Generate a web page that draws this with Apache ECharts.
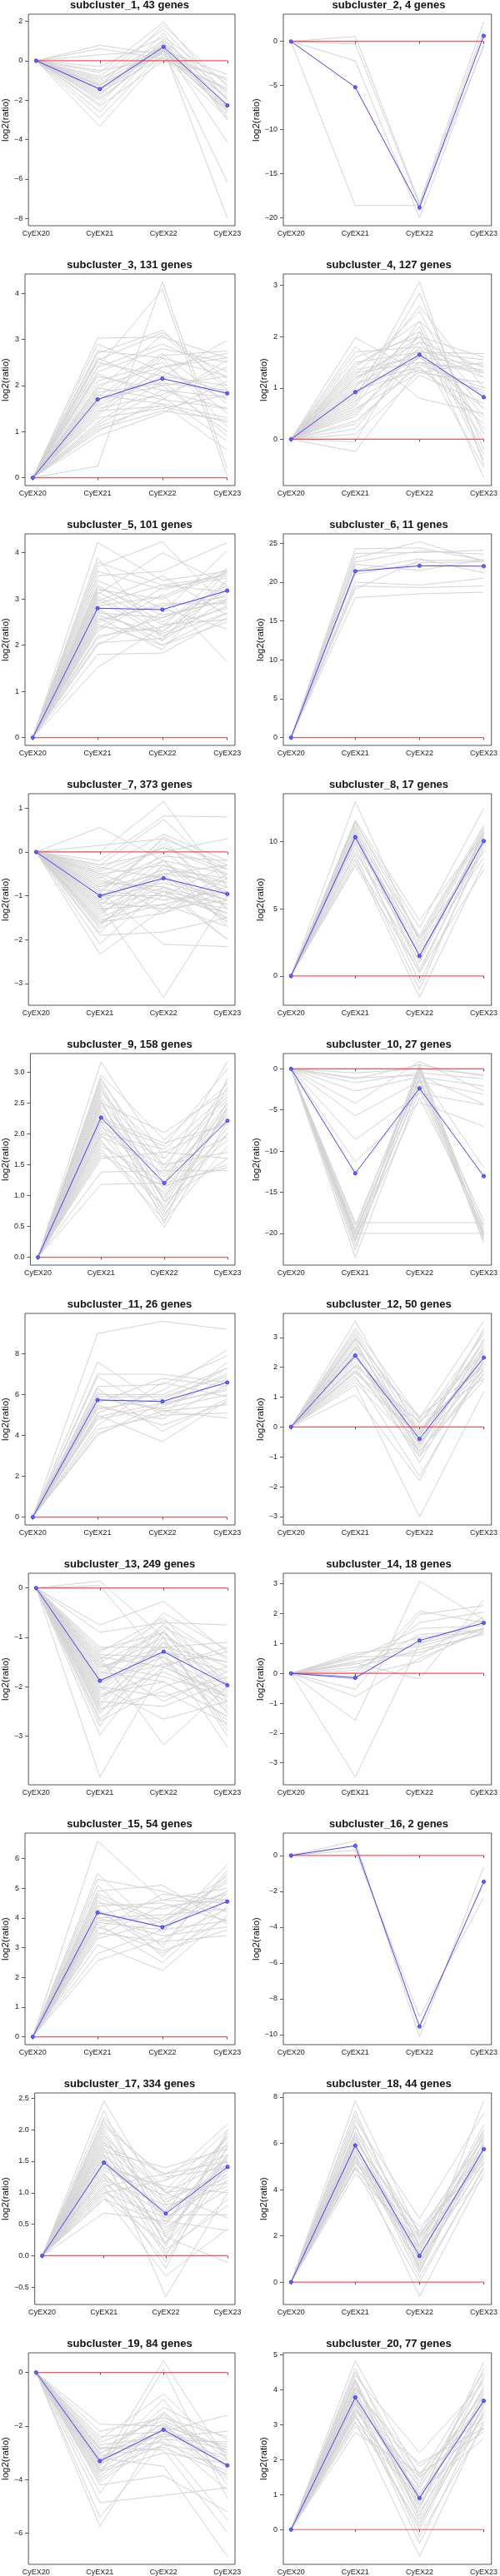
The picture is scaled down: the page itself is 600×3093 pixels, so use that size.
<!DOCTYPE html>
<html>
<head>
<meta charset="utf-8">
<script src="https://cdn.jsdelivr.net/npm/echarts@6/dist/echarts.min.js"></script>
<style>
  body { margin: 0; background: #fff; }
</style>
</head>
<body>
<div id="main" style="width: 600px; height: 3093px;"></div>
<script>
// samples on the x axis; every profile is log2 ratio vs CyEX20
const samples = ["CyEX20", "CyEX21", "CyEX22", "CyEX23"];
const geneCounts = [43, 4, 131, 127, 101, 11, 373, 17, 158, 27, 26, 50, 249, 18, 54, 2, 334, 44, 84, 77];

// blue mean profile of each subcluster
const meanProfiles = [
  [0, -1.44, 0.70, -2.27],
  [0, -5.19, -18.84, 0.63],
  [0, 1.70, 2.15, 1.83],
  [0, 0.92, 1.65, 0.82],
  [0, 2.80, 2.77, 3.18],
  [0, 21.4, 22.1, 22.05],
  [0, -1.0, -0.6, -0.96],
  [0, 10.33, 1.49, 10.04],
  [0, 2.26, 1.20, 2.21],
  [0, -12.7, -2.37, -13.05],
  [0, 5.74, 5.67, 6.60],
  [0, 2.39, -0.40, 2.32],
  [0, -1.88, -1.29, -1.97],
  [0, -0.15, 1.10, 1.69],
  [0, 4.18, 3.69, 4.55],
  [0, 0.54, -9.55, -1.47],
  [0, 1.48, 0.67, 1.41],
  [0, 5.91, 1.13, 5.75],
  [0, -3.31, -2.14, -3.47],
  [0, 3.78, 0.90, 3.68]
];

// y tick step and decimals per panel
const yTickStep = [2, 5, 1, 1, 1, 5, 1, 5, 0.5, 5, 2, 1, 1, 1, 1, 2, 0.5, 2, 2, 1];
const yTickDecimals = [0, 0, 0, 0, 0, 0, 0, 0, 1, 0, 0, 0, 0, 0, 0, 0, 1, 0, 0, 0];

// grey gene profiles (a subset of each subcluster)
const genes1 = [
  [0, 0.78, 0.3, -1.0], [0, 0.6, 0.1, -1.5], [0, 0.3, 0.5, -0.7], [0, -0.3, 1.2, -1.2],
  [0, -0.6, 1.96, -1.8], [0, -0.8, 1.6, -2.0], [0, -1.0, 1.0, -1.6], [0, -1.2, 0.4, -2.6],
  [0, -1.4, 0.8, -2.2], [0, -1.6, 0.2, -2.9], [0, -1.8, 1.4, -3.0], [0, -2.0, 0.6, -2.4],
  [0, -2.3, 0.0, -1.4], [0, -2.6, 0.9, -2.8], [0, -2.9, 0.5, -1.9], [0, -3.33, 0.3, -2.5],
  [0, -1.1, 0.6, -7.97], [0, -1.5, 0.5, -6.15], [0, -0.9, 0.7, -4.13], [0, -0.5, 0.1, -0.9],
  [0, -1.3, 1.8, -1.3], [0, -1.5, 0.9, -1.9], [0, -1.7, 0.7, -2.2], [0, -1.9, 0.5, -2.6],
  [0, -2.2, 1.1, -2.0], [0, -1.25, 0.55, -2.45]
];
const genes2 = [
  [0, 0.55, -18.3, 2.2], [0, -0.3, -18.5, 1.3], [0, -2.2, -20.0, -0.4], [0, -18.6, -18.6, -0.6]
];
const genes3 = [
  [0, 3.03, 3.05, 2.6], [0, 2.75, 2.6, 2.2], [0, 2.7, 3.2, 1.9], [0, 2.5, 2.2, 2.98],
  [0, 2.3, 2.8, 2.5], [0, 2.2, 1.9, 1.5], [0, 2.0, 2.4, 2.7], [0, 1.9, 3.1, 2.0],
  [0, 1.8, 1.6, 1.3], [0, 1.7, 2.0, 2.2], [0, 1.6, 2.3, 1.7], [0, 1.5, 1.8, 2.4],
  [0, 1.4, 2.6, 1.1], [0, 1.3, 1.5, 1.8], [0, 1.2, 2.1, 0.9], [0, 1.0, 1.7, 1.5],
  [0, 0.9, 1.4, 2.1], [0, 0.25, 4.25, 0.2], [0, 2.4, 4.09, 0.04], [0, 1.1, 1.6, 0.6],
  [0, 2.6, 2.0, 1.0], [0, 2.4, 2.9, 2.3], [0, 2.1, 2.5, 1.4], [0, 1.95, 1.7, 2.55],
  [0, 1.75, 2.7, 1.6], [0, 1.55, 2.2, 2.0], [0, 1.45, 1.55, 1.2], [0, 1.35, 2.4, 2.6],
  [0, 1.15, 1.9, 1.75], [0, 2.55, 3.15, 2.15], [0, 2.25, 1.75, 0.8], [0, 1.85, 2.05, 1.9],
  [0, 1.65, 2.65, 2.75], [0, 2.9, 2.3, 1.85], [0, 1.05, 1.45, 1.25]
];
const genes4 = [
  [0, 1.98, 1.3, 1.5], [0, 1.8, 0.8, 0.5], [0, 1.6, 2.0, 1.6], [0, 1.5, 1.7, 1.67],
  [0, 1.4, 2.3, 1.2], [0, 1.3, 1.5, 0.9], [0, 1.2, 1.9, 1.4], [0, 1.1, 1.4, 0.3],
  [0, 1.0, 2.6, 1.0], [0, 0.9, 1.6, 0.6], [0, 0.8, 3.07, -0.5], [0, 0.7, 2.85, -0.2],
  [0, 0.6, 1.3, 1.1], [0, 0.5, 1.8, 0.0], [0, 0.3, 1.5, 1.3], [0, 0.1, 1.25, 0.7],
  [0, -0.05, 2.1, -0.75], [0, -0.24, 1.4, 0.4], [0, 0.9, 2.2, -0.4], [0, 1.2, 1.7, 1.55],
  [0, 1.7, 1.8, 1.3], [0, 1.45, 2.1, 0.8], [0, 1.35, 1.6, 1.45], [0, 1.15, 2.0, 0.6],
  [0, 1.05, 1.75, 1.2], [0, 0.95, 1.35, 0.95], [0, 0.85, 2.0, 0.2], [0, 0.75, 1.5, 1.35],
  [0, 0.65, 2.3, -0.3], [0, 0.55, 1.6, 0.85], [0, 0.45, 1.9, 0.45], [0, 0.35, 1.45, 1.0],
  [0, 1.25, 2.5, 0.1], [0, 0.2, 1.7, -0.55]
];
const genes5 = [
  [0, 4.22, 3.4, 3.6], [0, 3.9, 2.1, 3.0], [0, 3.7, 4.24, 2.8], [0, 3.5, 3.6, 4.22],
  [0, 3.3, 2.5, 3.3], [0, 3.2, 3.0, 3.6], [0, 3.0, 2.2, 2.7], [0, 2.9, 3.3, 3.5],
  [0, 2.8, 2.0, 2.5], [0, 2.7, 2.6, 3.1], [0, 2.6, 1.9, 3.4], [0, 2.5, 2.9, 2.9],
  [0, 2.4, 2.3, 3.2], [0, 2.3, 3.1, 1.64], [0, 2.2, 2.4, 3.65], [0, 2.0, 2.7, 4.05],
  [0, 1.8, 1.83, 2.6], [0, 1.52, 2.4, 2.8], [0, 3.1, 4.0, 3.3], [0, 3.4, 2.8, 2.35],
  [0, 3.6, 3.2, 3.55], [0, 3.25, 2.65, 2.95], [0, 3.05, 2.3, 3.4], [0, 2.95, 3.5, 2.65],
  [0, 2.75, 2.1, 3.6], [0, 2.55, 2.85, 3.05], [0, 2.45, 2.0, 2.7], [0, 2.35, 3.25, 3.45],
  [0, 2.15, 2.6, 3.0], [0, 3.15, 2.45, 2.55], [0, 2.85, 3.05, 3.65], [0, 2.65, 2.25, 2.85],
  [0, 3.8, 3.3, 3.15], [0, 2.05, 2.15, 3.25]
];
const genes6 = [
  [0, 24.3, 24.4, 22.8], [0, 23.7, 23.8, 24.1], [0, 23.1, 25.2, 22.7], [0, 22.6, 24.0, 23.6],
  [0, 22.3, 21.5, 22.9], [0, 21.5, 23.0, 21.2], [0, 21.0, 22.5, 22.6], [0, 20.0, 19.6, 20.5],
  [0, 19.5, 19.3, 19.5], [0, 19.1, 22.8, 22.8], [0, 18.0, 18.5, 18.7]
];
const genes7 = [
  [0, 0.56, -0.2, -0.5], [0, 0.15, 0.3, -0.3], [0, 0.0, 1.15, -0.8], [0, -0.2, 0.82, 0.80],
  [0, -0.3, 0.74, -0.6], [0, -0.4, 0.4, -0.2], [0, -0.5, -0.3, -0.9], [0, -0.6, 0.1, -0.4],
  [0, -0.7, -0.8, -1.2], [0, -0.8, -0.5, -0.7], [0, -0.9, 0.2, -1.0], [0, -1.0, -1.0, -1.4],
  [0, -1.0, -0.4, -0.6], [0, -1.1, -0.7, -1.1], [0, -1.2, -0.2, -1.3], [0, -1.3, -1.2, -0.8],
  [0, -1.4, -0.6, -1.6], [0, -1.5, -0.9, -1.2], [0, -1.6, -1.4, -0.9], [0, -1.7, -0.3, -1.7],
  [0, -1.9, -1.83, -1.5], [0, -2.1, -0.8, -2.0], [0, -2.33, -1.3, -1.1], [0, -1.2, -3.32, -1.0],
  [0, -0.9, -2.11, -2.16], [0, -0.5, -1.0, -0.3], [0, -0.3, 0.0, 0.3],
  [0, -0.35, -0.6, -1.1], [0, -0.45, 0.1, -0.5], [0, -0.65, -0.9, -1.5], [0, -0.75, -0.1, -0.2],
  [0, -0.85, -1.1, -0.9], [0, -0.95, 0.3, -1.3], [0, -1.05, -0.5, -1.6], [0, -1.15, -1.3, -0.5],
  [0, -1.25, 0.0, -1.0], [0, -1.35, -0.8, -1.4], [0, -1.45, -0.3, -0.7], [0, -1.55, -1.2, -1.7],
  [0, -1.65, -0.6, -1.1], [0, -1.75, -1.0, -1.3], [0, -1.85, -0.4, -0.8], [0, -0.55, -1.4, -0.6],
  [0, -1.1, 0.35, -0.4], [0, -0.8, -0.2, -1.55], [0, -1.3, -0.5, -0.3], [0, -1.6, -0.9, -2.0]
];
const genes8 = [
  [0, 12.98, 2.5, 11.0], [0, 11.6, 4.15, 10.5], [0, 11.4, 3.6, 12.46], [0, 11.2, 2.2, 10.8],
  [0, 11.0, 1.5, 10.2], [0, 10.8, 0.5, 9.8], [0, 10.6, 3.0, 11.2], [0, 10.4, 2.0, 10.0],
  [0, 10.2, 1.0, 10.6], [0, 10.0, -0.5, 9.5], [0, 9.8, 2.8, 11.0], [0, 9.5, 0.2, 10.3],
  [0, 9.2, 1.8, 8.8], [0, 9.0, -1.0, 9.9], [0, 8.7, -1.6, 8.4], [0, 8.4, 1.2, 10.7],
  [0, 8.2, 0.3, 7.9], [0, 11.5, 2.8, 9.2], [0, 10.5, 1.5, 10.4]
];
const genes9 = [
  [0, 3.16, 1.6, 2.6], [0, 2.95, 1.9, 2.8], [0, 2.8, 0.9, 2.5], [0, 2.7, 1.4, 3.17],
  [0, 2.6, 1.1, 2.3], [0, 2.5, 2.02, 2.7], [0, 2.4, 0.7, 2.0], [0, 2.3, 1.3, 2.4],
  [0, 2.2, 1.0, 1.9], [0, 2.1, 1.6, 2.6], [0, 2.0, 0.8, 2.1], [0, 1.95, 1.5, 1.7],
  [0, 1.9, 0.49, 2.2], [0, 1.8, 1.2, 2.5], [0, 1.75, 0.6, 1.8], [0, 1.6, 1.7, 1.6],
  [0, 1.38, 1.4, 1.4], [0, 1.18, 1.2, 1.45], [0, 2.2, 1.8, 3.05], [0, 2.5, 0.9, 1.6],
  [0, 2.9, 1.2, 2.85], [0, 2.75, 0.75, 2.4], [0, 2.65, 1.7, 2.2], [0, 2.55, 0.55, 2.9],
  [0, 2.45, 1.5, 2.55], [0, 2.35, 0.95, 2.75], [0, 2.25, 1.85, 2.15], [0, 2.15, 0.65, 2.45],
  [0, 2.05, 1.35, 2.3], [0, 1.85, 1.05, 2.0], [0, 1.7, 0.85, 2.35], [0, 2.85, 1.45, 1.95],
  [0, 2.0, 1.75, 2.65], [0, 1.65, 1.15, 1.5]
];
const genes10 = [
  [0, -0.5, 0.0, -0.7], [0, -1.2, 0.5, -0.9], [0, -1.7, -0.5, -1.2], [0, -2.7, -1.0, -2.1],
  [0, -4.2, 0.9, -2.7], [0, -5.7, -1.5, -3.1], [0, -8.6, -3.0, -4.4], [0, -11.3, -4.1, -7.0],
  [0, -19.0, -0.5, -12.0], [0, -19.5, 0.3, -19.5], [0, -20.0, -1.0, -20.0], [0, -20.3, 0.0, -20.3],
  [0, -20.6, -2.0, -19.8], [0, -21.0, 0.6, -20.5], [0, -21.5, -1.5, -18.5], [0, -22.0, -0.2, -21.2],
  [0, -22.9, -2.5, -20.2], [0, -20.8, -3.5, -19.0], [0, -19.8, -1.2, -20.8], [0, -18.7, -18.7, -18.7],
  [0, -20.0, -20.0, -20.0], [0, -1.1, -0.8, -4.3]
];
const genes11 = [
  [0, 9.0, 9.6, 9.2], [0, 7.6, 5.5, 6.3], [0, 7.0, 7.0, 6.6], [0, 6.9, 5.0, 5.1],
  [0, 6.4, 6.5, 7.9], [0, 6.3, 4.2, 5.8], [0, 6.0, 6.0, 7.3], [0, 5.8, 5.3, 6.0],
  [0, 5.6, 6.8, 6.4], [0, 5.5, 4.5, 5.6], [0, 5.3, 5.8, 7.0], [0, 5.1, 6.2, 8.2],
  [0, 5.0, 3.7, 5.7], [0, 4.8, 5.4, 6.8], [0, 4.5, 6.6, 5.9], [0, 4.3, 5.0, 7.6],
  [0, 4.1, 5.2, 4.85], [0, 4.0, 5.6, 6.2], [0, 5.9, 5.9, 6.9], [0, 5.4, 4.8, 6.5],
  [0, 4.9, 5.6, 7.3], [0, 6.1, 5.2, 5.5]
];
const genes12 = [
  [0, 3.54, -0.2, 2.8], [0, 3.3, 0.3, 3.54], [0, 3.1, -0.6, 2.5], [0, 3.0, 0.1, 3.1],
  [0, 2.9, -0.9, 2.2], [0, 2.7, -0.3, 2.9], [0, 2.6, 0.36, 2.0], [0, 2.5, -1.2, 2.6],
  [0, 2.4, -0.5, 2.3], [0, 2.3, 0.0, 1.9], [0, 2.2, -0.7, 2.7], [0, 2.1, -0.1, 2.1],
  [0, 2.0, -1.0, 1.8], [0, 1.9, -0.4, 2.4], [0, 1.8, 0.2, 1.6], [0, 1.7, -1.65, 2.0],
  [0, 1.5, -0.8, 1.55], [0, 1.4, -3.02, 1.18], [0, 1.07, -1.8, 2.2], [0, 2.8, -0.6, 3.3],
  [0, 3.2, -0.3, 3.2], [0, 2.95, 0.25, 2.6], [0, 2.65, -1.0, 2.95], [0, 2.35, -0.15, 2.15],
  [0, 2.05, 0.15, 2.5], [0, 1.85, -0.55, 1.9], [0, 1.6, -0.25, 2.3], [0, 2.45, -0.8, 1.75]
];
const genes13 = [
  [0, 0.14, -1.0, -1.6], [0, 0.05, -1.5, -2.2], [0, -0.75, -0.27, -1.3], [0, -0.9, -0.7, -0.75],
  [0, -1.2, -1.2, -1.5], [0, -1.3, -0.6, -2.0], [0, -1.4, -1.6, -1.2], [0, -1.5, -0.9, -2.4],
  [0, -1.6, -1.3, -1.7], [0, -1.7, -1.9, -2.6], [0, -1.8, -0.8, -1.4], [0, -1.9, -1.4, -2.1],
  [0, -2.0, -2.2, -1.8], [0, -2.1, -1.1, -2.8], [0, -2.2, -1.7, -2.3], [0, -2.3, -2.4, -1.9],
  [0, -2.4, -1.0, -3.0], [0, -2.5, -1.5, -2.5], [0, -2.7, -2.0, -1.6], [0, -2.98, -1.3, -3.23],
  [0, -3.83, -1.6, -2.2], [0, -1.4, -3.18, -2.0], [0, -2.0, -2.66, -2.3], [0, -1.6, -1.2, -1.1],
  [0, -1.25, -0.9, -1.9], [0, -1.35, -1.4, -2.7], [0, -1.45, -0.65, -1.45], [0, -1.55, -1.8, -2.2],
  [0, -1.65, -1.0, -2.9], [0, -1.75, -0.75, -1.85], [0, -1.85, -1.55, -1.3], [0, -1.95, -1.2, -2.45],
  [0, -2.05, -0.9, -2.05], [0, -2.15, -1.9, -2.6], [0, -2.25, -1.3, -1.5], [0, -2.35, -0.7, -2.3],
  [0, -2.45, -2.1, -2.75], [0, -2.55, -1.1, -1.95], [0, -2.65, -1.6, -2.15], [0, -2.8, -0.85, -2.55],
  [0, -1.5, -2.3, -1.7], [0, -1.9, -0.5, -1.25]
];
const genes14 = [
  [0, 0.68, 0.9, 1.5], [0, 0.6, 1.2, 1.4], [0, 0.5, 1.5, 1.6], [0, 0.4, 0.7, 1.35],
  [0, 0.3, 1.0, 1.8], [0, 0.2, 0.8, 1.3], [0, 0.1, 1.3, 1.45], [0, 0.0, 1.7, 2.05],
  [0, -0.1, 0.4, 1.55], [0, -0.2, 2.08, 1.7], [0, -0.53, 1.97, 2.27], [0, -0.78, 0.5, 1.4],
  [0, -1.58, 3.09, 1.8], [0, -3.47, 1.0, 1.5], [0, 0.35, -0.19, 2.46], [0, 0.55, 0.6, 1.9]
];
const genes15 = [
  [0, 6.59, 4.6, 4.5], [0, 5.49, 3.5, 5.8], [0, 5.3, 4.9, 4.2], [0, 5.1, 3.0, 5.6],
  [0, 4.9, 5.1, 3.8], [0, 4.7, 3.8, 5.3], [0, 4.5, 4.3, 4.8], [0, 4.3, 2.8, 4.0],
  [0, 4.1, 4.6, 5.0], [0, 4.0, 3.4, 3.7], [0, 3.9, 4.0, 5.4], [0, 3.8, 2.5, 4.4],
  [0, 3.6, 4.8, 4.6], [0, 3.5, 3.2, 3.41], [0, 3.3, 3.9, 5.2], [0, 3.1, 2.23, 4.1],
  [0, 2.8, 3.6, 3.9], [0, 2.56, 3.3, 4.3], [0, 4.2, 3.7, 4.9], [0, 4.8, 3.9, 4.9],
  [0, 4.6, 2.7, 4.7], [0, 4.4, 4.5, 3.9], [0, 4.2, 3.1, 5.5], [0, 4.0, 4.1, 4.3],
  [0, 3.85, 3.6, 4.8], [0, 3.7, 2.9, 3.6], [0, 3.4, 4.4, 4.6]
];
const genes16 = [
  [0, 0.81, -10.12, -0.62], [0, 0.29, -9.0, -2.34]
];
const genes17 = [
  [0, 2.46, 0.8, 1.9], [0, 2.3, 0.3, 1.6], [0, 2.1, 1.2, 2.09], [0, 2.0, 0.5, 1.8],
  [0, 1.9, 1.0, 1.5], [0, 1.8, 0.2, 2.0], [0, 1.7, 0.9, 1.3], [0, 1.65, 1.4, 1.7],
  [0, 1.6, 0.6, 1.2], [0, 1.5, 0.0, 1.6], [0, 1.45, 0.7, 1.9], [0, 1.4, 1.1, 1.0],
  [0, 1.3, 0.4, 1.4], [0, 1.25, -0.2, 1.75], [0, 1.2, 0.8, 1.1], [0, 1.1, 1.3, 1.5],
  [0, 1.05, 0.1, 0.8], [0, 1.0, 0.6, 1.3], [0, 0.95, -0.32, 0.43], [0, 0.9, 0.5, 1.6],
  [0, 0.68, 0.55, 0.4], [0, 1.6, -0.65, 1.0], [0, 1.3, 0.3, -0.11], [0, 1.8, 1.0, 0.6],
  [0, 1.5, 0.7, 1.45], [0, 2.15, 0.55, 1.7], [0, 2.05, 1.25, 1.4], [0, 1.95, 0.15, 1.95],
  [0, 1.85, 0.75, 1.25], [0, 1.75, 1.3, 1.75], [0, 1.55, 0.35, 1.55], [0, 1.35, 0.95, 1.85],
  [0, 1.15, 0.45, 1.05], [0, 1.0, 1.2, 1.6], [0, 0.9, 0.2, 1.2], [0, 1.7, 0.05, 0.9],
  [0, 1.45, 1.05, 2.0], [0, 1.25, 0.65, 0.65], [0, 1.6, 0.85, 1.35], [0, 2.2, 1.0, 1.15],
  [0, 1.1, -0.1, 1.5]
];
const genes18 = [
  [0, 7.84, 2.0, 6.5], [0, 7.4, 1.2, 5.5], [0, 7.0, 2.75, 7.3], [0, 6.8, 0.5, 5.8],
  [0, 6.5, 1.6, 6.8], [0, 6.3, 0.9, 5.2], [0, 6.1, 2.2, 6.2], [0, 5.9, 1.4, 5.6],
  [0, 5.8, 0.2, 4.9], [0, 5.6, 1.8, 6.0], [0, 5.5, 1.0, 5.4], [0, 5.4, -0.63, 4.7],
  [0, 5.3, 0.7, 7.84], [0, 5.2, 2.4, 5.1], [0, 5.0, 1.3, 6.4], [0, 4.9, 0.0, 5.0],
  [0, 4.68, 1.7, 4.5], [0, 6.0, 0.4, 5.9], [0, 7.2, 1.5, 6.6], [0, 6.7, 2.1, 5.3],
  [0, 6.4, 0.6, 6.1], [0, 6.2, 1.9, 5.7], [0, 5.7, 1.1, 6.3], [0, 5.45, 0.8, 5.2],
  [0, 5.15, 2.0, 5.8], [0, 4.95, 1.5, 5.5]
];
const genes19 = [
  [0, -1.93, -2.0, -2.8], [0, -2.2, -1.7, -2.4], [0, -2.5, -0.8, -3.1], [0, -2.7, -2.4, -2.2],
  [0, -2.9, -1.6, -3.5], [0, -3.0, -2.2, -1.6], [0, -3.1, -2.8, -3.8], [0, -3.2, -1.9, -3.0],
  [0, -3.3, -1.0, -4.2], [0, -3.4, -2.5, -2.6], [0, -3.5, 0.44, -3.3], [0, -3.6, -2.1, -4.0],
  [0, -3.7, -3.0, -3.4], [0, -3.8, 0.13, -4.7], [0, -4.0, -2.3, -2.9], [0, -4.2, -3.85, -5.2],
  [0, -4.5, -1.5, -3.6], [0, -4.86, -4.59, -4.3], [0, -5.4, -2.6, -5.5], [0, -5.74, -2.0, -3.9],
  [0, -3.2, -3.5, -6.87], [0, -2.8, -2.9, -5.97], [0, -2.4, -2.2, -3.3], [0, -2.6, -1.8, -2.9],
  [0, -2.85, -2.6, -3.7], [0, -3.05, -1.5, -3.2], [0, -3.25, -2.3, -2.7], [0, -3.45, -1.9, -3.9],
  [0, -3.65, -2.7, -3.1], [0, -3.9, -2.0, -3.5], [0, -4.1, -2.4, -4.4], [0, -3.35, -1.3, -2.5]
];
const genes20 = [
  [0, 4.83, 1.5, 4.5], [0, 4.6, 0.8, 4.79], [0, 4.4, 2.2, 4.2], [0, 4.2, 0.3, 3.5],
  [0, 4.1, 1.2, 4.0], [0, 4.0, 1.8, 3.2], [0, 3.9, 0.6, 4.4], [0, 3.8, 1.0, 3.7],
  [0, 3.7, -0.2, 3.0], [0, 3.6, 1.4, 3.9], [0, 3.5, 0.5, 3.3], [0, 3.4, 1.9, 2.9],
  [0, 3.3, 0.0, 3.6], [0, 3.2, 1.1, 2.6], [0, 3.1, -0.77, 3.1], [0, 2.95, 0.9, 3.8],
  [0, 2.78, 1.6, 2.8], [0, 4.3, 0.7, 4.1], [0, 3.6, -0.4, 3.4], [0, 4.5, 1.3, 4.3],
  [0, 4.25, 0.4, 3.9], [0, 4.05, 1.6, 3.6], [0, 3.95, 0.9, 4.6], [0, 3.75, 0.2, 3.3],
  [0, 3.65, 1.2, 4.0], [0, 3.45, 0.7, 3.5], [0, 3.35, 1.5, 3.1], [0, 3.25, 0.1, 3.75],
  [0, 3.05, 1.0, 2.9]
];

const geneSets = [genes1, genes2, genes3, genes4, genes5, genes6, genes7, genes8, genes9, genes10,
  genes11, genes12, genes13, genes14, genes15, genes16, genes17, genes18, genes19, genes20];

const chart = echarts.init(document.getElementById("main"));

const FONT = "Liberation Sans, Arial, sans-serif";
const colLeft = [29, 340];
const plotW = 253;
const plotH = 254;
const rowTop = 17;
const rowPitch = 312;

const xPos = [1, 2, 3, 4];
const fmtNum = (v, d) => (v < 0 ? "\u2212" : "") + Math.abs(v).toFixed(d);

let grids = [], xAxes = [], yAxes = [], titles = [], series = [];

geneSets.forEach(function (genes, i) {
  const col = i % 2;
  const row = Math.floor(i / 2);
  const top = rowTop + row * rowPitch;
  const left = colLeft[col];

  // y range like R: data range plus 4% either side
  let lo = 0, hi = 0;
  genes.concat([meanProfiles[i]]).forEach(function (g) {
    g.forEach(function (v) { lo = Math.min(lo, v); hi = Math.max(hi, v); });
  });
  const pad = (hi - lo) * 0.04;
  const step = yTickStep[i];
  let ticks = [];
  for (let v = Math.ceil((lo - pad) / step) * step; v <= hi + pad + 1e-9; v += step) {
    ticks.push(Math.round(v * 100) / 100);
  }

  grids.push({
    left: left, top: top, width: plotW, height: plotH,
    show: true, borderColor: "#555", borderWidth: 1, backgroundColor: "transparent"
  });
  titles.push({
    text: "subcluster_" + (i + 1) + ", " + geneCounts[i] + " genes",
    left: left + plotW / 2, top: top - 17, textAlign: "center", padding: 0,
    textStyle: { fontFamily: FONT, fontSize: 13, fontWeight: "bold", color: "#111" }
  });
  xAxes.push({
    gridIndex: i, type: "value", min: 1 - 0.12, max: 4 + 0.12,
    axisLine: { show: false }, splitLine: { show: false },
    axisTick: { show: true, length: 3, customValues: xPos, lineStyle: { color: "#555" } },
    axisLabel: {
      customValues: xPos, margin: 5, fontFamily: FONT, fontSize: 9, color: "#222",
      formatter: function (v) { return samples[Math.round(v) - 1]; }
    }
  });
  yAxes.push({
    gridIndex: i, type: "value", min: lo - pad, max: hi + pad,
    name: "log2(ratio)", nameLocation: "middle", nameGap: 17,
    nameTextStyle: { fontFamily: FONT, fontSize: 11.5, color: "#111" },
    axisLine: { show: false }, splitLine: { show: false },
    axisTick: { show: true, length: 4, customValues: ticks, lineStyle: { color: "#555" } },
    axisLabel: {
      customValues: ticks, margin: 7, fontFamily: FONT, fontSize: 9, color: "#222",
      formatter: function (v) { return fmtNum(v, yTickDecimals[i]); }
    }
  });

  genes.forEach(function (g) {
    series.push({
      type: "line", xAxisIndex: i, yAxisIndex: i, silent: true,
      data: g.map(function (v, k) { return [xPos[k], v]; }),
      symbol: "none", lineStyle: { color: "#d3d3d3", width: 1 }, z: 1
    });
  });
  series.push({
    type: "line", xAxisIndex: i, yAxisIndex: i, silent: true,
    data: [[1, 0], [4, 0]],
    symbol: "none", lineStyle: { color: "rgba(255,40,40,0.8)", width: 1.2 }, z: 2
  });
  series.push({
    type: "line", xAxisIndex: i, yAxisIndex: i, silent: true,
    data: meanProfiles[i].map(function (v, k) { return [xPos[k], v]; }),
    symbol: "circle", symbolSize: 4,
    itemStyle: { color: "#6a6aff", borderColor: "#3030ff", borderWidth: 1 },
    lineStyle: { color: "#4040ff", width: 1 }, z: 3
  });
});

const option = {
  animation: false,
  backgroundColor: "#fff",
  title: titles,
  grid: grids,
  xAxis: xAxes,
  yAxis: yAxes,
  series: series
};
chart.setOption(option);
</script>
</body>
</html>
